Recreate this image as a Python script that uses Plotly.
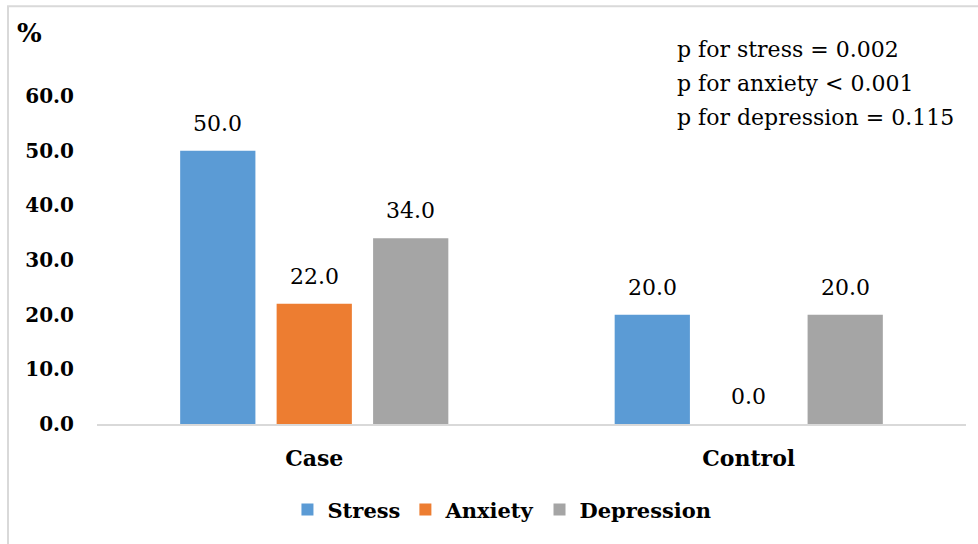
import plotly.graph_objects as go

groups = ["Case", "Control"]
series = ["Stress", "Anxiety", "Depression"]
values = {
    "Stress": [50.0, 20.0],
    "Anxiety": [22.0, 0.0],
    "Depression": [34.0, 20.0],
}
colors = {"Stress": "#5B9BD5", "Anxiety": "#ED7D31", "Depression": "#A5A5A5"}
y_ticks = [0, 10, 20, 30, 40, 50, 60]
p_notes = [
    "p for stress = 0.002",
    "p for anxiety &lt; 0.001",
    "p for depression = 0.115",
]

SERIF = "DejaVu Serif"

fig = go.Figure()
for name in series:
    fig.add_trace(go.Bar(
        x=groups, y=values[name], name=name,
        marker=dict(color=colors[name], line=dict(width=0)),
    ))

# value labels above each bar
slot = 96.5
for i, name in enumerate(series):
    for g, v in zip(groups, values[name]):
        fig.add_annotation(
            x=g, y=v, text=f"{v:.1f}", showarrow=False,
            xref="x", yref="y", xanchor="center", yanchor="bottom",
            xshift=(i - 1) * slot, yshift=13,
            font=dict(family=SERIF, size=22, color="#000000"),
        )

# unit label for the value axis
fig.add_annotation(
    xref="paper", yref="paper", x=-0.094, y=1.192,
    xanchor="left", yanchor="middle", showarrow=False,
    text="%", font=dict(family=SERIF, size=26, color="#000000", weight="bold"),
)

# significance notes, one line each
for k, line in enumerate(p_notes):
    fig.add_annotation(
        xref="paper", yref="paper", x=0.665, y=1.143 - k * 0.104,
        xanchor="left", yanchor="middle", showarrow=False, align="left",
        text=line,
        font=dict(family=SERIF, size=22, color="#000000"),
    )

# chart frame
fig.add_shape(
    type="rect", xref="paper", yref="paper",
    x0=-0.1024, x1=1.05, y0=-0.45, y1=1.274,
    line=dict(color="#D9D9D9", width=2), fillcolor="rgba(0,0,0,0)", layer="below",
)

fig.update_layout(
    width=978, height=544,
    margin=dict(l=97, r=12, t=96, b=120),
    paper_bgcolor="white", plot_bgcolor="white",
    barmode="group", bargap=0.334, bargroupgap=0.22,
    showlegend=True,
    legend=dict(
        orientation="h", x=0.466, y=-0.262, xanchor="center", yanchor="middle",
        font=dict(family=SERIF, size=21, color="#000000", weight="bold"),
        itemwidth=30, traceorder="normal",
    ),
    font=dict(family=SERIF, color="#000000"),
)
fig.update_xaxes(
    showline=True, linecolor="#D9D9D9", linewidth=2,
    showgrid=False, ticks="", ticklabelstandoff=14,
    tickfont=dict(family=SERIF, size=22, color="#000000", weight="bold"),
)
fig.update_yaxes(
    range=[0, 60], tickvals=y_ticks, ticktext=[f"{t:.1f}" for t in y_ticks],
    showgrid=False, showline=False, zeroline=False, ticks="",
    ticklabelstandoff=22,
    tickfont=dict(family=SERIF, size=20, color="#000000", weight="bold"),
)

fig.write_html("out.html")
